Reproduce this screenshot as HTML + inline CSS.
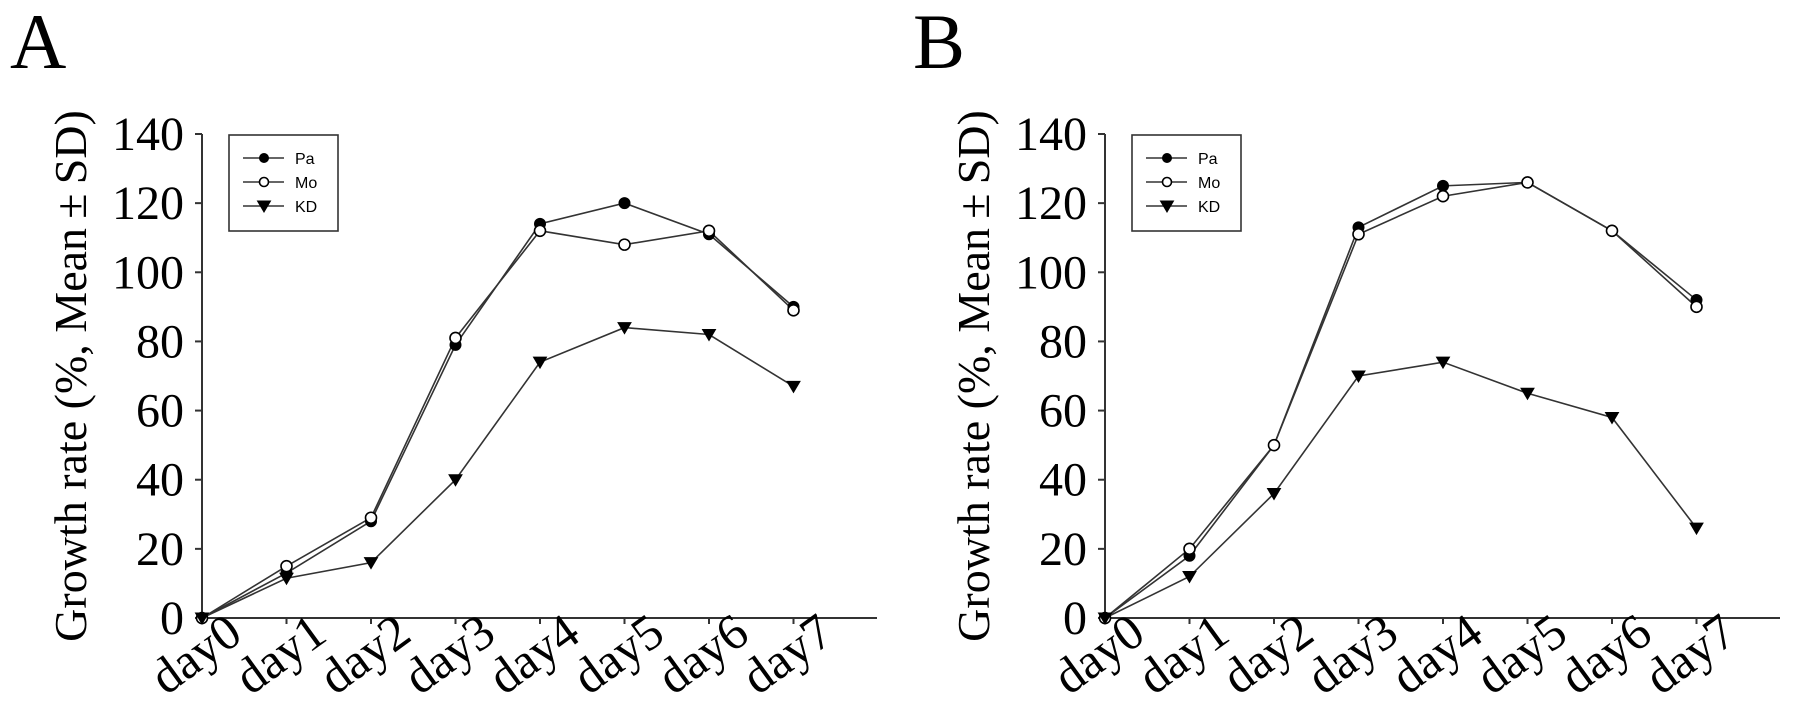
<!DOCTYPE html>
<html><head><meta charset="utf-8"><style>
html,body{margin:0;padding:0;background:#fff;}
svg{display:block;}
</style></head><body>
<svg id="fig" width="1795" height="713" viewBox="0 0 1795 713" xmlns="http://www.w3.org/2000/svg">
<text x="10" y="68" font-family="Liberation Serif, serif" font-size="78">A</text>
<text x="913" y="68" font-family="Liberation Serif, serif" font-size="78">B</text>
</svg>
<script>
const categories = ["day0","day1","day2","day3","day4","day5","day6","day7"];
const yTicks = [0,20,40,60,80,100,120,140];
const seriesNames = ["Pa","Mo","KD"];
const paA = [0,13,28,79,114,120,111,90];
const moA = [0,15,29,81,112,108,112,89];
const kdA = [0,11.5,16,40,74,84,82,67];
const paB = [0,18,50,113,125,126,112,92];
const moB = [0,20,50,111,122,126,112,90];
const kdB = [0,12,36,70,74,65,58,26];

const NS = "http://www.w3.org/2000/svg";
const svg = document.getElementById('fig');
function mk(tag, attrs, parent){const e=document.createElementNS(NS,tag);for(const k in attrs)e.setAttribute(k,attrs[k]);(parent||svg).appendChild(e);return e;}

function marker(g, type, x, y){
  let m;
  if(type==="Pa"){m=mk('circle',{cx:x,cy:y,r:5.5,fill:'#000',stroke:'#000','stroke-width':1},g);}
  else if(type==="Mo"){m=mk('circle',{cx:x,cy:y,r:5.5,fill:'#fff',stroke:'#000','stroke-width':1.6},g);}
  else {m=mk('polygon',{points:`${x-6.5},${y-5} ${x+6.5},${y-5} ${x},${y+6}`,fill:'#000',stroke:'#000','stroke-width':1},g);}
  return m;
}

function panel(ox, id, pa, mo, kd){
  const x0=ox, step=84.5, y0=618, ppu=(618-134)/140;
  const xs=i=>x0+i*step, ys=v=>y0-v*ppu;
  const g=mk('g',{});
  
  
  const ya=mk('line',{x1:x0,y1:ys(140),x2:x0,y2:y0,stroke:'#333','stroke-width':2},g);
  
  
  const xa=mk('line',{x1:x0,y1:y0,x2:x0+675,y2:y0,stroke:'#333','stroke-width':2},g);
  
  
  yTicks.forEach(v=>{
    mk('line',{x1:x0-7,y1:ys(v),x2:x0,y2:ys(v),stroke:'#333','stroke-width':2},g);
    const t=mk('text',{x:x0-18,y:ys(v)+16,'text-anchor':'end','font-family':'Liberation Serif, serif','font-size':48},g);
    t.textContent=v;
    
    
  });
  categories.forEach((c,i)=>{
    mk('line',{x1:xs(i),y1:y0,x2:xs(i),y2:y0+6,stroke:'#333','stroke-width':2},g);
    const t=mk('text',{transform:`translate(${xs(i)-36},${y0+78}) rotate(-36)`,'font-family':'Liberation Serif, serif','font-size':50},g);
    t.textContent=c;
    
    
  });
  const yt=mk('text',{transform:`translate(${x0-116},${376}) rotate(-90)`,'text-anchor':'middle','font-family':'Liberation Serif, serif','font-size':46},g);
  yt.textContent='Growth rate (%, Mean\u2009\u00B1\u2009SD)';
  
  
  const data=[pa,mo,kd];
  data.forEach((arr,si)=>{
    const sg=mk('g',{},g);
    
    
    mk('polyline',{points:arr.map((v,i)=>xs(i)+','+ys(v)).join(' '),fill:'none',stroke:'#333','stroke-width':1.6},sg);
  });
  data.forEach((arr,si)=>{
    arr.forEach((v,i)=>{
      const m=marker(g,seriesNames[si],xs(i),ys(v));
      
      
    });
  });
  const lg=mk('g',{},g);
  
  
  const lx=x0+27, ly=135;
  mk('rect',{x:lx,y:ly,width:109,height:96,fill:'#fff',stroke:'#333','stroke-width':1.6},lg);
  seriesNames.forEach((n,i)=>{
    const yy=ly+23+i*24;
    const eg=mk('g',{},lg);
    
    
    mk('line',{x1:lx+14,y1:yy,x2:lx+55,y2:yy,stroke:'#333','stroke-width':1.6},eg);
    const m=marker(eg,n,lx+35,yy);
    if(n!=="KD") m.setAttribute('r',4.5);
    const t=mk('text',{x:lx+66,y:yy+6,'font-family':'Liberation Sans, sans-serif','font-size':16},eg);
    t.textContent=n;
  });
}
panel(202,'a',paA,moA,kdA);
panel(1105,'b',paB,moB,kdB);
</script>
</body></html>
